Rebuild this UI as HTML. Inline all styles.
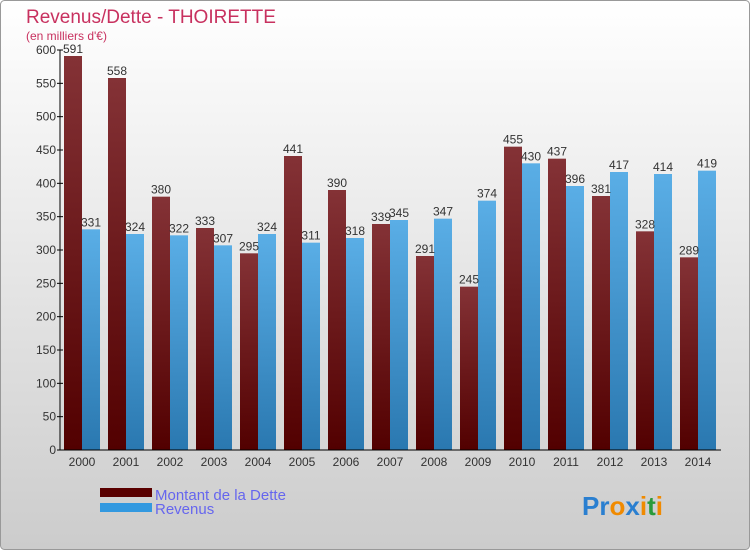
<!DOCTYPE html>
<html><head><meta charset="utf-8"><style>
body{margin:0;padding:0}
#wrap{position:relative;width:750px;height:550px;overflow:hidden;font-family:"Liberation Sans",sans-serif}
</style></head><body>
<div id="wrap">
<svg id="chart" width="750" height="550" xmlns="http://www.w3.org/2000/svg">
<defs>
<linearGradient id="bg" x1="0" y1="0" x2="0" y2="1"><stop offset="0" stop-color="#ffffff"/><stop offset="1" stop-color="#cccccc"/></linearGradient>
<linearGradient id="gd" x1="0" y1="0" x2="0" y2="1"><stop offset="0" stop-color="#843236"/><stop offset="1" stop-color="#520000"/></linearGradient>
<linearGradient id="gr" x1="0" y1="0" x2="0" y2="1"><stop offset="0" stop-color="#5aaee6"/><stop offset="1" stop-color="#2a78b0"/></linearGradient>
</defs>
<rect x="0.5" y="0.5" width="749" height="549" rx="4" fill="url(#bg)" stroke="#999"/>
<text x="26" y="23" font-size="19" fill="#c8315f">Revenus/Dette - THOIRETTE</text>
<text x="26" y="40" font-size="12" fill="#c8315f">(en milliers d'€)</text>
<g id="bars"></g>
<g id="axes"></g>
<rect x="100" y="488" width="52" height="9" fill="#5a0000"/>
<rect x="100" y="503" width="52" height="9" fill="#3399e0"/>
<text x="155" y="500" font-size="15" fill="#6666ee">Montant de la Dette</text>
<text x="155" y="514" font-size="15" fill="#6666ee">Revenus</text>
<text x="582" y="515" font-size="26" font-weight="bold"><tspan fill="#2a7fd0">Pr</tspan><tspan fill="#f08a00">o</tspan><tspan fill="#2a7fd0">x</tspan><tspan fill="#f08a00">i</tspan><tspan fill="#2a9a3a">t</tspan><tspan fill="#f08a00">i</tspan></text>
</svg>
</div>
<script>
const years=["2000","2001","2002","2003","2004","2005","2006","2007","2008","2009","2010","2011","2012","2013","2014"];
const dette=[591,558,380,333,295,441,390,339,291,245,455,437,381,328,289];
const revenus=[331,324,322,307,324,311,318,345,347,374,430,396,417,414,419];
const yTicks=[0,50,100,150,200,250,300,350,400,450,500,550,600];
const NS="http://www.w3.org/2000/svg";
const y=v=>450-v*400/600;
const x=i=>64+i*44;
const bars=document.getElementById('bars'),axes=document.getElementById('axes');
function mk(tag,attrs,parent){const e=document.createElementNS(NS,tag);for(const k in attrs)e.setAttribute(k,attrs[k]);parent.appendChild(e);return e;}
years.forEach((yr,i)=>{
  let r=mk('rect',{x:x(i),y:y(dette[i]),width:18,height:450-y(dette[i]),fill:'url(#gd)'},bars);
  
  
  let r2=mk('rect',{x:x(i)+18,y:y(revenus[i]),width:18,height:450-y(revenus[i]),fill:'url(#gr)'},bars);
  
  
  let t=mk('text',{x:x(i)+9,y:y(dette[i])-3,'font-size':12,fill:'#333','text-anchor':'middle'},bars);t.textContent=dette[i];
  
  
  let t2=mk('text',{x:x(i)+27,y:y(revenus[i])-3,'font-size':12,fill:'#333','text-anchor':'middle'},bars);t2.textContent=revenus[i];
  
  
  let xl=mk('text',{x:x(i)+18,y:466,'font-size':12,fill:'#333','text-anchor':'middle'},axes);xl.textContent=yr;
  
  
});
let ya=mk('line',{x1:60,y1:50,x2:60,y2:450,stroke:'#000'},axes);


let xa=mk('line',{x1:60,y1:450,x2:721,y2:450,stroke:'#000'},axes);


yTicks.forEach(v=>{
  mk('line',{x1:57,y1:y(v),x2:63,y2:y(v),stroke:'#000'},axes);
  let t=mk('text',{x:56,y:y(v)+4,'font-size':12,fill:'#333','text-anchor':'end'},axes);t.textContent=v;
  
  
});
</script>
</body></html>
